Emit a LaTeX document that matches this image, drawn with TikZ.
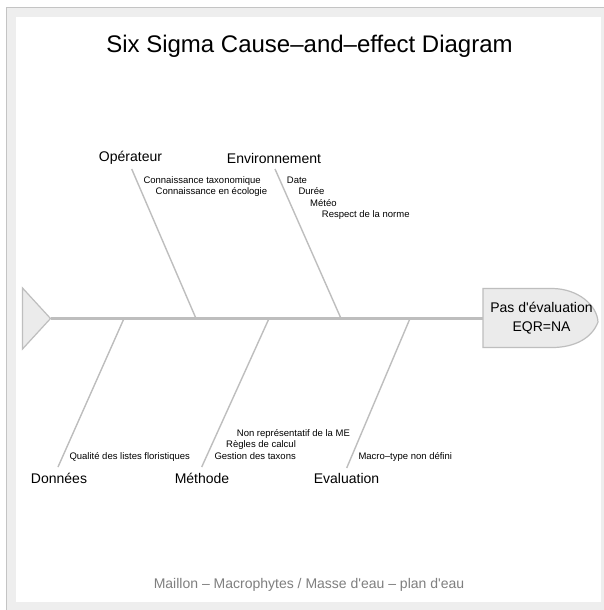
\documentclass[tikz,border=0pt]{standalone}
\usepackage{fontspec}
\setmainfont{Liberation Sans}[Ligatures=TeXOff]
\definecolor{bggray}{HTML}{EEEEEE}
\definecolor{framegray}{HTML}{C4C4C4}
\definecolor{bonegray}{HTML}{BEBEBE}
\definecolor{headfill}{HTML}{EBEBEB}
\definecolor{footgray}{HTML}{7F7F7F}
\tikzset{
  bone/.style={draw=bonegray, line width=1.4pt},
  spine/.style={draw=bonegray, line width=3.5pt},
  cat/.style={inner sep=0pt, anchor=center, font=\fontsize{14}{16}\selectfont},
  cause/.style={inner sep=0pt, anchor=mid west, font=\fontsize{9.5}{11}\selectfont},
  titletext/.style={inner sep=0pt, font=\fontsize{24}{29}\selectfont},
  foottext/.style={inner sep=0pt, text=footgray, font=\fontsize{14}{16}\selectfont},
  headtext/.style={inner sep=0pt, align=center, font=\fontsize{14}{19}\selectfont}
}
\begin{document}
\begin{tikzpicture}[x=1pt,y=-1pt]
\useasboundingbox (0,0) rectangle (604,610);
% background frame
\fill[bggray] (6,7) rectangle (604,610);
\draw[framegray, line width=1.5pt] (6.5,610) -- (6.5,7.5) -- (604,7.5);
\fill[white] (16,17) rectangle (601,602);

% title and footer
\node[titletext] (title) at (309.5,46) {Six Sigma Cause–and–effect Diagram};
\node[foottext] (footer) at (309,585) {Maillon – Macrophytes / Masse d'eau – plan d'eau};

% tail
\draw[draw=bonegray, fill=headfill, line width=1.2pt] (22.5,288) -- (22.5,349) -- (50.5,318.5) -- cycle;
\coordinate (tail) at (50.5,318.5);

% head
\draw[draw=bonegray, fill=headfill, line width=1.2pt]
  (483,288.5) -- (553,288.5)
  .. controls (578,289) and (597,305) .. (598,322)
  .. controls (592,338) and (575,347.5) .. (552,347.5)
  -- (483,347.5) -- cycle;
\coordinate (headleft) at (483,318.5);
\node[headtext] (effect) at (541.5,318.5) {Pas d'évaluation\\EQR=NA};

% spine
\draw[spine] (tail) -- (headleft);

% bone roots on spine
\coordinate (rOp) at (196,318.5);
\coordinate (rEnv) at (341,318.5);
\coordinate (rDon) at (124,318.5);
\coordinate (rMet) at (269,318.5);
\coordinate (rEva) at (410,318.5);

% bone ends
\coordinate (eOp) at (131.7,169);
\coordinate (eEnv) at (275,169);
\coordinate (eDon) at (58,467);
\coordinate (eMet) at (201.7,467);
\coordinate (eEva) at (346.7,468);

\draw[bone] (rOp) -- (eOp);
\draw[bone] (rEnv) -- (eEnv);
\draw[bone] (rDon) -- (eDon);
\draw[bone] (rMet) -- (eMet);
\draw[bone] (rEva) -- (eEva);

% category labels
\node[cat] (cOp) at (130.5,158) {Opérateur};
\node[cat] (cEnv) at (274,158) {Environnement};
\node[cat] (cDon) at (59,478) {Données};
\node[cat] (cMet) at (202,478) {Méthode};
\node[cat] (cEva) at (346.5,478) {Evaluation};

% causes
\node[cause] (op1) at (143.3,181) {Connaissance taxonomique};
\node[cause] (op2) at (155.5,192) {Connaissance en écologie};

\node[cause] (env1) at (286.7,181) {Date};
\node[cause] (env2) at (298.3,192) {Durée};
\node[cause] (env3) at (310,203.5) {Météo};
\node[cause] (env4) at (321.7,214.5) {Respect de la norme};

\node[cause] (don1) at (69.3,456.5) {Qualité des listes floristiques};

\node[cause] (met1) at (236.7,433.5) {Non représentatif de la ME};
\node[cause] (met2) at (226,444.5) {Règles de calcul};
\node[cause] (met3) at (214.3,456.5) {Gestion des taxons};

\node[cause] (eva1) at (358.3,456.5) {Macro–type non défini};
\end{tikzpicture}
\end{document}
